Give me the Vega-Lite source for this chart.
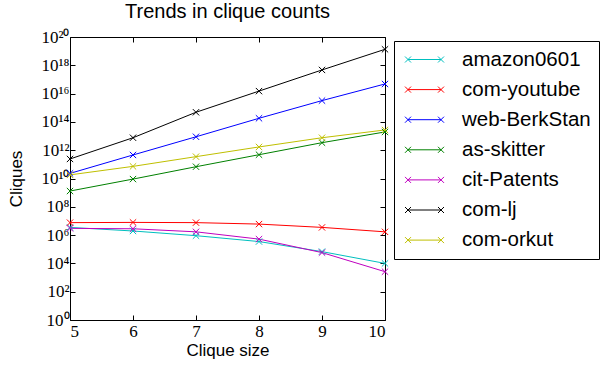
{
 "$schema": "https://vega.github.io/schema/vega-lite/v6.json",
 "width": 315, "height": 283,
 "autosize": {"type": "none"},
 "padding": {"left": 70, "top": 37, "right": 217, "bottom": 47},
 "title": {"text": "Trends in clique counts", "font": "Liberation Sans", "fontSize": 20, "fontWeight": "normal", "color": "black", "anchor": "middle", "frame": "group", "offset": 10, "dy": 19.5, "baseline": "alphabetic"},
 "config": {
  "view": {"stroke": "black", "strokeWidth": 1},
  "axis": {"grid": false, "domain": false, "tickColor": "black", "tickSize": -5, "labelColor": "black", "titleColor": "black", "labelFont": "Liberation Serif", "labelFontSize": 17, "titleFont": "Liberation Sans", "titleFontSize": 17, "titleFontWeight": "normal"}
 },
 "data": {"values": [
  {"g": "amazon0601", "k": 5, "c": 3.5e6}, {"g": "amazon0601", "k": 6, "c": 1.95e6}, {"g": "amazon0601", "k": 7, "c": 9.1e5}, {"g": "amazon0601", "k": 8, "c": 3.5e5}, {"g": "amazon0601", "k": 9, "c": 6.8e4}, {"g": "amazon0601", "k": 10, "c": 1.0e4},
  {"g": "com-youtube", "k": 5, "c": 7.6e6}, {"g": "com-youtube", "k": 6, "c": 7.9e6}, {"g": "com-youtube", "k": 7, "c": 7.6e6}, {"g": "com-youtube", "k": 8, "c": 6.0e6}, {"g": "com-youtube", "k": 9, "c": 3.5e6}, {"g": "com-youtube", "k": 10, "c": 1.7e6},
  {"g": "web-BerkStan", "k": 5, "c": 2.3e10}, {"g": "web-BerkStan", "k": 6, "c": 4.6e11}, {"g": "web-BerkStan", "k": 7, "c": 8.9e12}, {"g": "web-BerkStan", "k": 8, "c": 1.8e14}, {"g": "web-BerkStan", "k": 9, "c": 3.2e15}, {"g": "web-BerkStan", "k": 10, "c": 4.8e16},
  {"g": "as-skitter", "k": 5, "c": 1.3e9}, {"g": "as-skitter", "k": 6, "c": 9.1e9}, {"g": "as-skitter", "k": 7, "c": 6.8e10}, {"g": "as-skitter", "k": 8, "c": 4.8e11}, {"g": "as-skitter", "k": 9, "c": 3.4e12}, {"g": "as-skitter", "k": 10, "c": 1.95e13},
  {"g": "cit-Patents", "k": 5, "c": 3.0e6}, {"g": "cit-Patents", "k": 6, "c": 2.8e6}, {"g": "cit-Patents", "k": 7, "c": 1.7e6}, {"g": "cit-Patents", "k": 8, "c": 5.2e5}, {"g": "cit-Patents", "k": 9, "c": 5.8e4}, {"g": "cit-Patents", "k": 10, "c": 2.6e3},
  {"g": "com-lj", "k": 5, "c": 2.4e11}, {"g": "com-lj", "k": 6, "c": 7.6e12}, {"g": "com-lj", "k": 7, "c": 4.8e14}, {"g": "com-lj", "k": 8, "c": 1.5e16}, {"g": "com-lj", "k": 9, "c": 4.7e17}, {"g": "com-lj", "k": 10, "c": 1.35e19},
  {"g": "com-orkut", "k": 5, "c": 1.8e10}, {"g": "com-orkut", "k": 6, "c": 7.2e10}, {"g": "com-orkut", "k": 7, "c": 3.5e11}, {"g": "com-orkut", "k": 8, "c": 1.7e12}, {"g": "com-orkut", "k": 9, "c": 7.6e12}, {"g": "com-orkut", "k": 10, "c": 2.7e13}
 ]},
 "encoding": {
  "color": {"field": "g", "type": "nominal",
   "scale": {"domain": ["amazon0601", "com-youtube", "web-BerkStan", "as-skitter", "cit-Patents", "com-lj", "com-orkut"], "range": ["#00bfbf", "#ff0000", "#0000ff", "#008000", "#bf00bf", "#000000", "#bfbf00"]},
   "legend": {"title": null, "orient": "none", "legendX": 324, "legendY": 4, "padding": 8, "strokeColor": "black", "cornerRadius": 0, "fillColor": "white",
    "symbolType": "M-1.65,0L1.65,0M-1.95,-0.3L-1.35,0.3M-1.95,0.3L-1.35,-0.3M1.35,-0.3L1.95,0.3M1.35,0.3L1.95,-0.3",
    "symbolSize": 400, "symbolStrokeWidth": 1, "symbolOffset": 12, "labelOffset": 27, "labelFont": "Liberation Sans", "labelFontSize": 20.5, "labelColor": "black", "rowPadding": 9.1}
  }
 },
 "layer": [
  {"mark": {"type": "line", "strokeWidth": 1},
   "encoding": {
    "x": {"field": "k", "type": "quantitative", "scale": {"domain": [5, 10], "nice": false, "zero": false}, "axis": {"orient": "bottom", "title": "Clique size", "values": [5, 6, 7, 8, 9, 10], "format": "d", "labelPadding": 8, "titlePadding": 3}},
    "y": {"field": "c", "type": "quantitative", "scale": {"type": "log", "domain": [1, 1e20], "nice": false}, "axis": {"orient": "left", "title": "Cliques", "values": [1, 1e2, 1e4, 1e6, 1e8, 1e10, 1e12, 1e14, 1e16, 1e18, 1e20], "labelPadding": 6, "titlePadding": 15,
     "labelExpr": "'10' + replace(replace(replace(replace(replace(replace(format(log(datum.value)/LN10, '.0f'), '0', '⁰'), '1', '¹'), '2', '²'), '4', '⁴'), '6', '⁶'), '8', '⁸')"}}
   }},
  {"mark": {"type": "point", "shape": "M-1,-1L1,1M-1,1L1,-1", "filled": false, "size": 40, "strokeWidth": 1, "opacity": 1},
   "encoding": {
    "x": {"field": "k", "type": "quantitative", "scale": {"domain": [5, 10], "nice": false, "zero": false}, "axis": {"orient": "top", "title": null, "labels": false, "values": [5, 6, 7, 8, 9, 10]}},
    "y": {"field": "c", "type": "quantitative", "scale": {"type": "log", "domain": [1, 1e20], "nice": false}, "axis": {"orient": "right", "title": null, "labels": false, "values": [1, 1e2, 1e4, 1e6, 1e8, 1e10, 1e12, 1e14, 1e16, 1e18, 1e20]}}
   }}
 ]
}
